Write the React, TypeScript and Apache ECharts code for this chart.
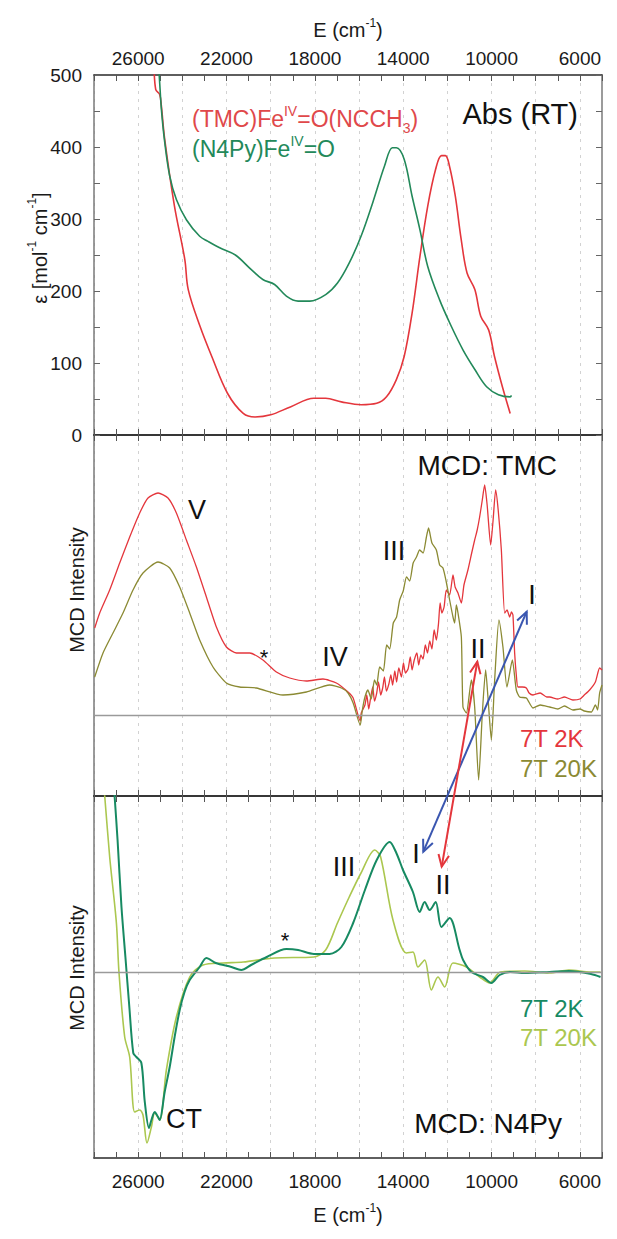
import React, { useEffect, useRef } from 'react';
import * as echarts from 'echarts';

const FONT = '"Liberation Sans", Arial, Helvetica, sans-serif';

// ---------- colours ----------
const RED = '#e4363c';
const RED_TEXT = '#e0484a';
const ABS_GREEN = '#23895a';
const OLIVE = '#8b8a33';
const DARK_GREEN = '#178a62';
const LIGHT_GREEN = '#abc74f';
const BLUE = '#3a56b0';

// ---------- axes ----------
const X_MIN = 5000;
const X_MAX = 28000;
const xLabelValues = [26000, 22000, 18000, 14000, 10000, 6000];
const absLabelValues = [0, 100, 200, 300, 400, 500];

// ---------- Abs (RT) ----------
const absTmcE = [25285, 25207, 25026, 24950, 24800, 24357, 23890, 23733, 23200, 22667, 21957, 21243, 20710, 20000, 19110, 18043, 17510, 16800, 15910, 15200, 14757, 14310, 13957, 13600, 13243, 12890, 12533, 12267, 12090, 11910, 11643, 11377, 11110, 10757, 10490, 10133, 9867, 9510, 9157];
const absTmcV = [520, 480, 473, 457, 411, 318, 244, 202, 151, 109, 58, 30, 25, 28, 39, 51, 51, 46, 42, 44, 53, 77, 109, 169, 248, 318, 369, 388, 388, 374, 332, 272, 225, 202, 165, 146, 109, 67, 30];

const absN4pyE = [25110, 25057, 24950, 24800, 24573, 24270, 23817, 23215, 22840, 22310, 21600, 20890, 20357, 19824, 19290, 18757, 18224, 17510, 16976, 16443, 15910, 15377, 14843, 14490, 14310, 13957, 13600, 13243, 12890, 12357, 11824, 11290, 10757, 10224, 9690, 9157, 9100];
const absN4pyV = [520, 504, 453, 407, 360, 327, 299, 276, 269, 260, 250, 230, 216, 209, 193, 186, 186, 195, 211, 239, 276, 323, 374, 399, 399, 383, 332, 285, 234, 188, 151, 118, 91, 67, 56, 53, 55];

// ---------- MCD: TMC (arbitrary units) ----------
const tmc2kE = [27968, 27742, 27290, 26837, 26384, 25931, 25555, 25100, 24650, 24270, 23817, 23364, 22912, 22459, 22006, 21553, 20950, 20350, 19743, 19140, 18385, 17633, 17027, 16500, 16267, 15946, 15900, 15733, 15650, 15560, 15470, 15380, 15300, 15200, 15120, 15020, 14930, 14850, 14760, 14650, 14560, 14480, 14380, 14300, 14200, 14080, 13990, 13900, 13780, 13680, 13600, 13500, 13380, 13300, 13200, 13100, 13000, 12900, 12800, 12700, 12600, 12500, 12400, 12330, 12250, 12150, 12047, 11900, 11746, 11650, 11520, 11368, 11250, 11070, 10900, 10765, 10650, 10540, 10420, 10313, 10200, 10040, 9930, 9815, 9700, 9557, 9407, 9300, 9180, 9100, 9032, 8955, 8880, 8805, 8600, 8425, 8300, 8126, 7800, 7500, 7370, 7000, 6700, 6316, 6000, 5800, 5560, 5300, 5107, 5000];
const tmc2kV = [0.87, 1.02, 1.25, 1.52, 1.78, 2.02, 2.17, 2.22, 2.17, 2.02, 1.75, 1.48, 1.18, 0.88, 0.68, 0.62, 0.62, 0.55, 0.43, 0.37, 0.34, 0.36, 0.32, 0.23, 0.17, -0.06, 0.02, 0.10, 0.20, 0.06, 0.18, 0.28, 0.14, 0.22, 0.33, 0.20, 0.27, 0.38, 0.24, 0.31, 0.40, 0.30, 0.44, 0.33, 0.47, 0.38, 0.52, 0.42, 0.46, 0.58, 0.45, 0.55, 0.62, 0.50, 0.60, 0.56, 0.70, 0.62, 0.74, 0.66, 0.85, 0.75, 0.92, 1.12, 1.02, 1.08, 1.25, 1.20, 1.40, 1.28, 1.22, 1.12, 1.30, 1.45, 1.62, 1.75, 1.85, 1.98, 2.15, 2.30, 2.10, 1.70, 1.95, 2.25, 2.05, 1.65, 1.02, 1.05, 0.98, 1.03, 1.00, 0.62, 0.40, 0.28, 0.28, 0.27, 0.22, 0.20, 0.22, 0.18, 0.18, 0.16, 0.18, 0.15, 0.16, 0.20, 0.25, 0.33, 0.47, 0.45];

const tmc20kE = [27968, 27592, 27140, 26687, 26234, 25782, 25100, 24573, 24120, 23667, 23215, 22612, 22006, 21404, 20650, 19444, 18385, 17330, 16800, 16500, 16267, 15946, 15850, 15733, 15600, 15450, 15300, 15200, 15066, 14900, 14750, 14613, 14450, 14300, 14160, 14000, 13850, 13708, 13550, 13400, 13256, 13100, 12950, 12853, 12700, 12500, 12350, 12200, 12050, 11898, 11746, 11670, 11595, 11520, 11368, 11295, 11140, 10915, 10765, 10585, 10417, 10268, 10164, 10010, 9860, 9666, 9485, 9304, 9060, 8880, 8730, 8425, 8126, 7800, 7370, 7000, 6700, 6316, 6000, 5800, 5483, 5300, 5200, 5107, 5000];
const tmc20kV = [0.38, 0.62, 0.82, 1.02, 1.25, 1.42, 1.53, 1.47, 1.28, 1.02, 0.75, 0.48, 0.32, 0.28, 0.27, 0.20, 0.23, 0.30, 0.27, 0.22, 0.12, -0.10, 0.05, 0.18, 0.25, 0.16, 0.35, 0.30, 0.48, 0.44, 0.70, 0.66, 0.92, 0.98, 1.15, 1.24, 1.38, 1.34, 1.52, 1.58, 1.65, 1.62, 1.78, 1.87, 1.72, 1.65, 1.50, 1.47, 1.33, 1.15, 0.98, 0.92, 1.10, 1.02, 0.78, 0.08, 0.02, 0.35, 0.08, -0.65, 0.02, 0.45, 0.18, -0.25, 0.35, 0.95, 0.68, 0.28, 0.55, 0.25, 0.18, 0.17, 0.07, 0.10, 0.08, 0.06, 0.09, 0.05, 0.06, 0.04, 0.03, 0.10, 0.05, 0.22, 0.30];

// ---------- MCD: N4Py (arbitrary units) ----------
const n4py2kE = [27080, 26933, 26756, 26578, 26400, 26222, 26080, 25855, 25700, 25511, 25400, 25250, 25100, 25025, 24800, 24573, 24350, 24120, 23900, 23667, 23215, 22912, 22489, 21778, 21333, 20889, 20178, 19289, 18756, 18044, 17333, 16800, 16267, 15733, 15200, 14614, 14311, 14010, 13560, 13256, 13030, 12803, 12530, 12273, 11898, 11445, 11289, 10915, 10390, 10010, 9634, 9156, 8500, 7378, 6500, 5500, 5067];
const n4py2kV = [1.80, 1.32, 0.65, 0.15, -0.35, -0.81, -0.85, -0.91, -1.30, -1.56, -1.48, -1.40, -1.45, -1.48, -1.20, -0.95, -0.65, -0.38, -0.20, -0.08, 0.05, 0.14, 0.09, 0.05, 0.02, 0.07, 0.15, 0.23, 0.22, 0.18, 0.18, 0.25, 0.49, 0.82, 1.12, 1.30, 1.19, 1.02, 0.80, 0.60, 0.70, 0.62, 0.70, 0.45, 0.54, 0.22, 0.12, 0.00, -0.05, -0.11, -0.03, 0.00, -0.01, 0.00, 0.01, -0.02, -0.05];

const n4py20kE = [27560, 27515, 27290, 26986, 26870, 26610, 26384, 26158, 25931, 25782, 25600, 25401, 25252, 25025, 24723, 24270, 23667, 23065, 22160, 21244, 19822, 18044, 17511, 16978, 16444, 15911, 15289, 15022, 14464, 13857, 13560, 13333, 13030, 12726, 12427, 12124, 11750, 11140, 10540, 10087, 9600, 8500, 7378, 6500, 5500, 5067];
const n4py20kV = [1.85, 1.76, 1.15, 0.49, 0.00, -0.65, -0.85, -1.40, -1.38, -1.43, -1.71, -1.55, -1.41, -1.48, -0.98, -0.45, -0.05, 0.07, 0.09, 0.10, 0.14, 0.15, 0.22, 0.49, 0.75, 0.99, 1.22, 1.15, 0.52, 0.19, 0.20, 0.05, 0.12, -0.18, -0.05, -0.15, 0.09, 0.05, -0.05, -0.11, 0.00, 0.01, -0.01, 0.02, 0.00, 0.00];

const zip = (xs: number[], ys: number[]) => xs.map((x, i) => [x, ys[i]]);

// ---------- layout ----------
const GRID_LEFT = 94;
const GRID_W = 508;
const panels = [
  { top: 75, height: 360, min: 0, max: 500 },
  { top: 435, height: 361, min: -0.81, max: 2.8 },
  { top: 796, height: 362, min: -1.86, max: 1.76 },
];

const xAxisFor = (gridIndex: number, position: string, opts: any = {}) => ({
  type: 'value',
  gridIndex,
  position,
  min: X_MIN,
  max: X_MAX,
  interval: 1000,
  inverse: true,
  axisLine: { show: true, onZero: false, lineStyle: { color: '#2a2a2a', width: 1.6 } },
  axisTick: { show: true, inside: true, length: 6, lineStyle: { color: '#555', width: 1 } },
  axisLabel: {
    show: !!opts.labels,
    margin: opts.margin ?? 8,
    fontSize: 19,
    color: '#1a1a1a',
    fontFamily: FONT,
    formatter: (v: number) => (xLabelValues.includes(v) ? String(v) : ''),
  },
  splitLine: {
    show: !!opts.split,
    lineStyle: { type: [3, 5], color: ['rgba(0,0,0,0)', '#d2d2d2'], width: 1 },
  },
  name: opts.name ?? '',
  nameLocation: 'middle',
  nameGap: opts.nameGap ?? 0,
  nameTextStyle: {
    fontFamily: FONT,
    color: '#1a1a1a',
    rich: {
      a: { fontSize: 20, fontFamily: FONT, color: '#1a1a1a', lineHeight: 26 },
      s: { fontSize: 12, fontFamily: FONT, color: '#1a1a1a', verticalAlign: 'top', lineHeight: 12 },
    },
  },
});

const yAxisFor = (gridIndex: number, position: string, p: any, opts: any = {}) => ({
  type: 'value',
  gridIndex,
  position,
  min: p.min,
  max: p.max,
  ...(opts.ticks ? { interval: 50 } : {}),
  axisLine: { show: true, onZero: false, lineStyle: { color: '#7a7a7a', width: 1.5 } },
  axisTick: { show: !!opts.ticks, inside: true, length: 6, lineStyle: { color: '#666' } },
  axisLabel: {
    show: !!opts.labels,
    margin: 12,
    fontSize: 19,
    color: '#1a1a1a',
    fontFamily: FONT,
    formatter: (v: number) => (absLabelValues.includes(v) ? String(v) : ''),
  },
  splitLine: { show: false },
});

const baseline = {
  silent: true,
  symbol: 'none',
  label: { show: false },
  lineStyle: { color: '#9a9a9a', width: 1.3, type: 'solid' },
  data: [{ yAxis: 0 }],
};

const lineSeries = (name: string, data: number[][], color: string, width: number, xi: number, yi: number, extra: any = {}) => ({
  name,
  type: 'line',
  data,
  xAxisIndex: xi,
  yAxisIndex: yi,
  showSymbol: false,
  symbol: 'none',
  clip: true,
  silent: true,
  lineStyle: { color, width },
  itemStyle: { color },
  z: 3,
  ...extra,
});

// ---------- annotations (text placement) ----------
const txt = (x: number, y: number, text: string, size: number, color = '#111', align = 'left', extra: any = {}) => ({
  type: 'text',
  x,
  y,
  silent: true,
  z: 10,
  ...extra,
  style: {
    text,
    fontSize: size,
    fontFamily: FONT,
    fill: color,
    textAlign: align,
    textVerticalAlign: 'middle',
    ...(extra.style || {}),
  },
});

const supRich = (size: number, color: string) => ({
  a: { fontSize: size, fontFamily: FONT, fill: color, color, lineHeight: size + 8 },
  s: { fontSize: Math.round(size * 0.6), fontFamily: FONT, fill: color, color, verticalAlign: 'top', lineHeight: Math.round(size * 0.6) },
  b: { fontSize: Math.round(size * 0.6), fontFamily: FONT, fill: color, color, verticalAlign: 'bottom', lineHeight: Math.round(size * 0.6) },
});

const arrowHead = (tx: number, ty: number, fx: number, fy: number) => {
  const ang = Math.atan2(ty - fy, tx - fx);
  const L = 13;
  const a = 0.42;
  return [
    [tx - L * Math.cos(ang - a), ty - L * Math.sin(ang - a)],
    [tx, ty],
    [tx - L * Math.cos(ang + a), ty - L * Math.sin(ang + a)],
  ];
};

const doubleArrow = (x1: number, y1: number, x2: number, y2: number, color: string) => [
  { type: 'line', silent: true, z: 12, shape: { x1, y1, x2, y2 }, style: { stroke: color, lineWidth: 2 } },
  { type: 'polyline', silent: true, z: 12, shape: { points: arrowHead(x1, y1, x2, y2) }, style: { stroke: color, lineWidth: 2, fill: null } },
  { type: 'polyline', silent: true, z: 12, shape: { points: arrowHead(x2, y2, x1, y1) }, style: { stroke: color, lineWidth: 2, fill: null } },
];

const graphics: any[] = [
  // top panel
  txt(192, 119, '{a|(TMC)Fe}{s|IV}{a|=O(NCCH}{b|3}{a|)}', 23, RED_TEXT, 'left', { style: { rich: supRich(23, RED_TEXT) } }),
  txt(192, 149, '{a|(N4Py)Fe}{s|IV}{a|=O}', 23, ABS_GREEN, 'left', { style: { rich: supRich(23, ABS_GREEN) } }),
  txt(578, 114, 'Abs (RT)', 29, '#111', 'right'),
  txt(40, 248, '{a|ε [mol}{s|-1}{a| cm}{s|-1}{a|]}', 20, '#1a1a1a', 'center', { rotation: Math.PI / 2, style: { rich: supRich(20, '#1a1a1a') } }),
  // middle panel
  txt(557, 465, 'MCD: TMC', 28, '#111', 'right'),
  txt(77, 590, 'MCD Intensity', 20, '#1a1a1a', 'center', { rotation: Math.PI / 2 }),
  txt(197, 510, 'V', 27, '#111', 'center'),
  txt(394, 551, 'III', 27, '#111', 'center'),
  txt(264, 657, '*', 22, '#111', 'center'),
  txt(335, 657, 'IV', 27, '#111', 'center'),
  txt(478, 649, 'II', 27, '#111', 'center'),
  txt(532, 595, 'I', 27, '#111', 'center'),
  txt(520, 738, '7T 2K', 24, RED, 'left'),
  txt(520, 768, '7T 20K', 24, OLIVE, 'left'),
  // bottom panel
  txt(77, 968, 'MCD Intensity', 20, '#1a1a1a', 'center', { rotation: Math.PI / 2 }),
  txt(285, 940, '*', 22, '#111', 'center'),
  txt(344, 867, 'III', 27, '#111', 'center'),
  txt(416, 854, 'I', 27, '#111', 'center'),
  txt(443, 885, 'II', 27, '#111', 'center'),
  txt(166, 1119, 'CT', 27, '#111', 'left'),
  txt(562, 1123, 'MCD: N4Py', 28, '#111', 'right'),
  txt(520, 1008, '7T 2K', 24, DARK_GREEN, 'left'),
  txt(520, 1037, '7T 20K', 24, LIGHT_GREEN, 'left'),
  // correlation arrows
  ...doubleArrow(526.7, 611.7, 423.3, 851.7, BLUE),
  ...doubleArrow(477.3, 661.7, 441.7, 866.7, RED),
];

const option: any = {
  animation: false,
  backgroundColor: '#ffffff',
  textStyle: { fontFamily: FONT },
  grid: panels.map((p) => ({ left: GRID_LEFT, top: p.top, width: GRID_W, height: p.height, containLabel: false })),
  xAxis: [
    xAxisFor(0, 'top', { labels: true, split: true, margin: 7, name: '{a|E (cm}{s|-1}{a|)}', nameGap: 32 }),
    xAxisFor(0, 'bottom'),
    xAxisFor(1, 'top', { split: true }),
    xAxisFor(1, 'bottom'),
    xAxisFor(2, 'top', { split: true }),
    xAxisFor(2, 'bottom', { labels: true, margin: 14, name: '{a|E (cm}{s|-1}{a|)}', nameGap: 44 }),
  ],
  yAxis: [
    yAxisFor(0, 'left', panels[0], { ticks: true, labels: true }),
    yAxisFor(0, 'right', panels[0], { ticks: true }),
    yAxisFor(1, 'left', panels[1]),
    yAxisFor(1, 'right', panels[1]),
    yAxisFor(2, 'left', panels[2]),
    yAxisFor(2, 'right', panels[2]),
  ],
  series: [
    lineSeries('(TMC)FeIV=O(NCCH3)', zip(absTmcE, absTmcV), RED, 1.6, 0, 0, { smooth: 0.35 }),
    lineSeries('(N4Py)FeIV=O', zip(absN4pyE, absN4pyV), ABS_GREEN, 1.6, 0, 0, { smooth: 0.35 }),
    lineSeries('TMC 7T 2K', zip(tmc2kE, tmc2kV), RED, 1.3, 2, 2, { smooth: 0.2, markLine: baseline }),
    lineSeries('TMC 7T 20K', zip(tmc20kE, tmc20kV), OLIVE, 1.3, 2, 2, { smooth: 0.2 }),
    lineSeries('N4Py 7T 20K', zip(n4py20kE, n4py20kV), LIGHT_GREEN, 1.6, 4, 4, { smooth: 0.3, markLine: baseline }),
    lineSeries('N4Py 7T 2K', zip(n4py2kE, n4py2kV), DARK_GREEN, 2, 4, 4, { smooth: 0.3 }),
  ],
  graphic: graphics,
};

export default function App() {
  const ref = useRef<HTMLDivElement>(null);
  useEffect(() => {
    if (!ref.current) return;
    const chart = echarts.init(ref.current, null, { renderer: 'svg' });
    chart.setOption(option);
    return () => chart.dispose();
  }, []);
  return <div ref={ref} style={{ position: 'absolute', left: 0, top: 0, width: 617, height: 1239, background: '#fff' }} />;
}
